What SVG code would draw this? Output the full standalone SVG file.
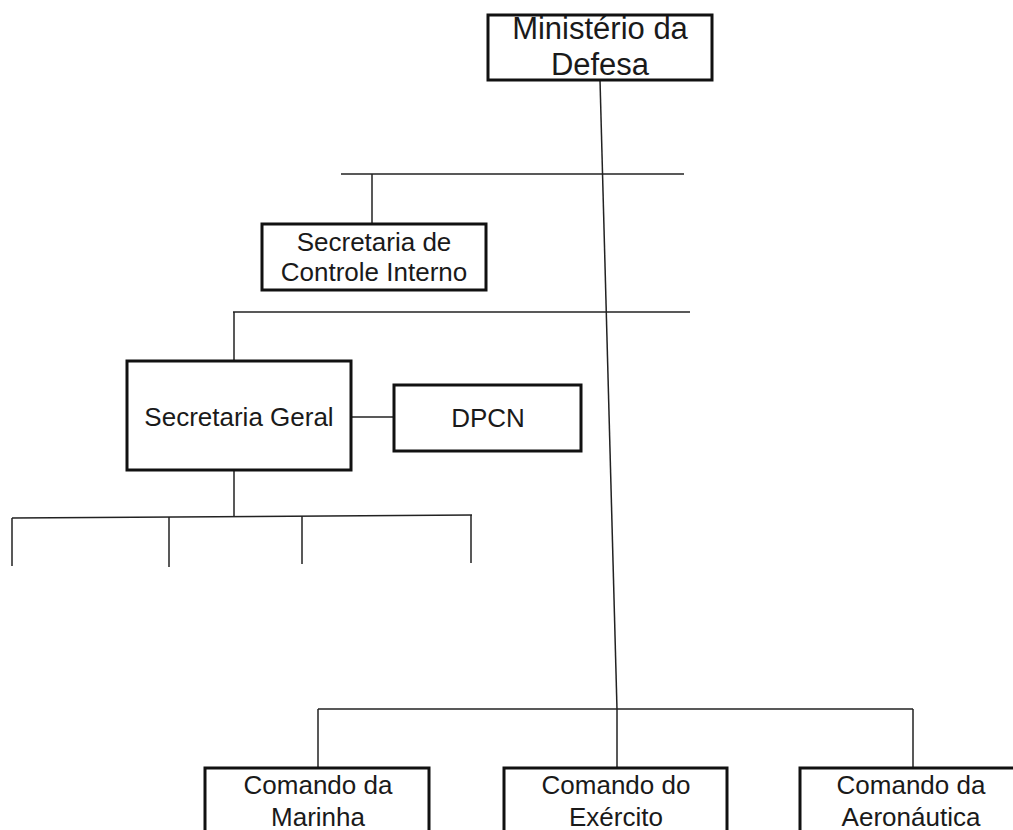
<svg xmlns="http://www.w3.org/2000/svg" width="1013" height="830" viewBox="0 0 1013 830">
<style>
.box{fill:#fff;stroke:#111;stroke-width:3}
.ln{fill:none;stroke:#222;stroke-width:1.5}
text{font-family:"Liberation Sans",Arial,sans-serif;fill:#1a1a1a;text-anchor:middle;font-size:26px}
.big{font-size:31px}
</style>
<rect width="1013" height="830" fill="#fff"/>
<g id="connectors">
<line class="ln" x1="600" y1="80" x2="617" y2="709"/>
<line class="ln" x1="341" y1="174" x2="684" y2="174"/>
<line class="ln" x1="372" y1="174" x2="372" y2="224"/>
<line class="ln" x1="233" y1="312" x2="690" y2="312"/>
<line class="ln" x1="234" y1="312" x2="234" y2="361"/>
<line class="ln" x1="351" y1="417" x2="394" y2="417"/>
<line class="ln" x1="234" y1="470" x2="234" y2="517"/>
<line class="ln" x1="12" y1="518" x2="472" y2="515"/>
<line class="ln" x1="12" y1="518" x2="12" y2="566"/>
<line class="ln" x1="169" y1="517" x2="169" y2="567"/>
<line class="ln" x1="302" y1="516" x2="302" y2="564"/>
<line class="ln" x1="471" y1="515" x2="471" y2="563"/>
<line class="ln" x1="318" y1="709" x2="913" y2="709"/>
<line class="ln" x1="318" y1="709" x2="318" y2="768"/>
<line class="ln" x1="617" y1="709" x2="617" y2="768"/>
<line class="ln" x1="913" y1="709" x2="913" y2="768"/>
</g>
<g id="ministerio">
<rect class="box" x="488" y="15" width="224" height="65"/>
<text class="big" x="600" y="39">Ministério da</text>
<text class="big" x="600" y="75">Defesa</text>
</g>
<g id="sci">
<rect class="box" x="262" y="224" width="224" height="66"/>
<text x="374" y="251">Secretaria de</text>
<text x="374" y="281">Controle Interno</text>
</g>
<g id="secgeral">
<rect class="box" x="127" y="361" width="224" height="109"/>
<text x="239" y="426">Secretaria Geral</text>
</g>
<g id="dpcn">
<rect class="box" x="394" y="385" width="187" height="66"/>
<text x="488" y="427">DPCN</text>
</g>
<g id="marinha">
<rect class="box" x="205" y="768" width="224" height="80"/>
<text x="318" y="794">Comando da</text>
<text x="318" y="826">Marinha</text>
</g>
<g id="exercito">
<rect class="box" x="504" y="768" width="223" height="80"/>
<text x="616" y="794">Comando do</text>
<text x="616" y="826">Exército</text>
</g>
<g id="aeronautica">
<rect class="box" x="800" y="768" width="223" height="80"/>
<text x="911" y="794">Comando da</text>
<text x="911" y="826">Aeronáutica</text>
</g>
</svg>
